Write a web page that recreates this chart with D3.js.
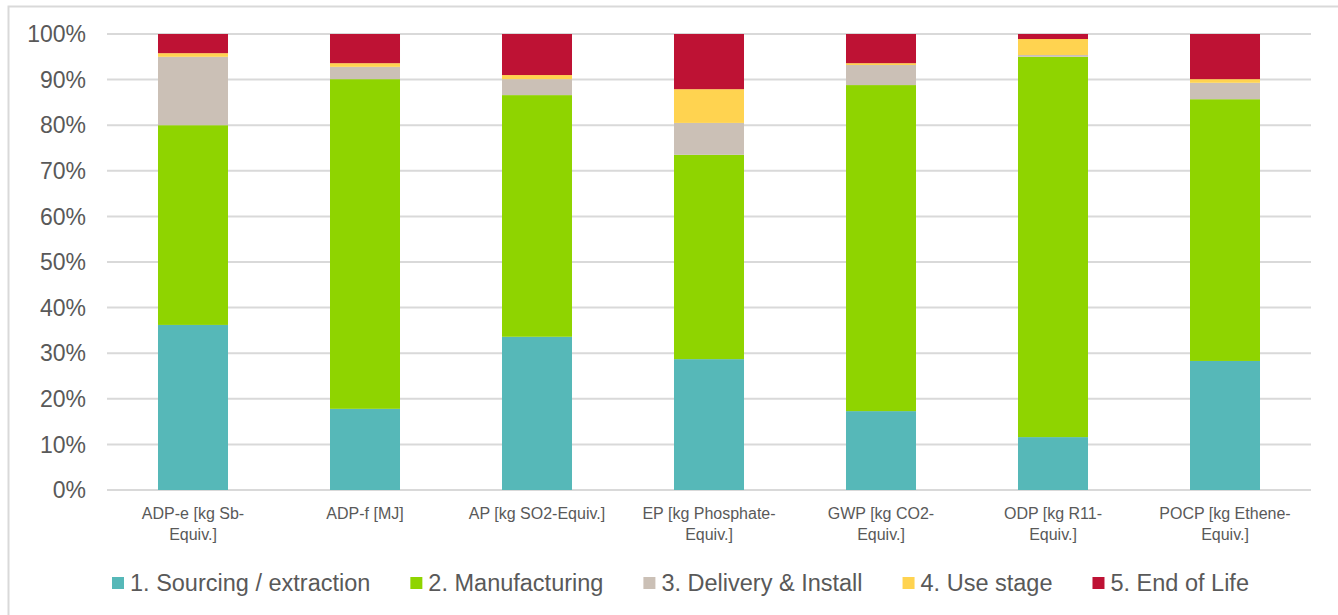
<!DOCTYPE html>
<html>
<head>
<meta charset="utf-8">
<script src="https://cdn.jsdelivr.net/npm/d3@7"></script>
<style>
  body { margin: 0; background: #fff; }
  svg text { font-family: "Liberation Sans", Arial, sans-serif; fill: #595959; }
</style>
</head>
<body>
<div id="chart"></div>
<script>
const categories = ['ADP-e [kg Sb-Equiv.]', 'ADP-f [MJ]', 'AP [kg SO2-Equiv.]', 'EP [kg Phosphate-Equiv.]',
    'GWP [kg CO2-Equiv.]', 'ODP [kg R11-Equiv.]', 'POCP [kg Ethene-Equiv.]'];
const seriesNames = ['1. Sourcing / extraction', '2. Manufacturing', '3. Delivery & Install', '4. Use stage', '5. End of Life'];
const sourcing      = [36.2, 17.8, 33.6, 28.7, 17.3, 11.6, 28.3];
const manufacturing = [43.8, 72.3, 53.0, 44.8, 71.5, 83.4, 57.4];
const delivery      = [15.0, 2.7, 3.5, 7.0, 4.4, 0.4, 3.6];
const useStage      = [0.8, 0.8, 0.9, 7.4, 0.4, 3.5, 0.8];
const endOfLife     = [4.2, 6.4, 9.0, 12.1, 6.4, 1.1, 9.9];
const yTicks = [0, 10, 20, 30, 40, 50, 60, 70, 80, 90, 100];
const colors = ['#56b8b8', '#8fd400', '#cbc0b6', '#ffd350', '#be1234'];

const width = 1338, height = 615;
const margin = { left: 107, right: 27, top: 34, bottom: 125 };

const svg = d3.select('#chart').append('svg')
    .attr('width', width)
    .attr('height', height);

// outer chart frame
svg.append('rect')
    .attr('x', 8.5).attr('y', 6.5)
    .attr('width', width).attr('height', height)
    .attr('fill', 'none').attr('stroke', '#d9d9d9').attr('stroke-width', 2);

const x = d3.scaleBand()
    .domain(categories)
    .range([margin.left, width - margin.right])
    .paddingInner(0.593)
    .paddingOuter(0.2965);

const y = d3.scaleLinear()
    .domain([0, 100])
    .range([height - margin.bottom, margin.top]);

// gridlines
svg.append('g')
    .selectAll('line').data(yTicks)
    .enter()
    .append('line')
    .attr('x1', margin.left)
    .attr('x2', width - margin.right)
    .attr('y1', d => y(d))
    .attr('y2', d => y(d))
    .attr('stroke', '#d9d9d9')
    .attr('stroke-width', 2);

// y tick labels
svg.append('g')
    .selectAll('text').data(yTicks)
    .enter()
    .append('text')
    .attr('x', 86)
    .attr('y', d => y(d))
    .attr('dy', '0.36em')
    .attr('text-anchor', 'end')
    .style('font-size', '23px')
    .text(d => d + '%');

// stacked bars
const rows = categories.map((c, i) => ({
    cat: c,
    s0: sourcing[i], s1: manufacturing[i], s2: delivery[i], s3: useStage[i], s4: endOfLife[i]
}));
const stack = d3.stack().keys(['s0', 's1', 's2', 's3', 's4'])(rows);

svg.append('g')
    .selectAll('g').data(stack)
    .enter()
    .append('g')
    .attr('fill', (d, i) => colors[i])
    .selectAll('rect').data(d => d)
    .enter()
    .append('rect')
    .attr('x', d => x(d.data.cat))
    .attr('width', x.bandwidth())
    .attr('y', d => y(d[1]))
    .attr('height', d => y(d[0]) - y(d[1]));

// category labels, wrapped like the original
const catG = svg.append('g');
categories.forEach(c => {
    const cx = x(c) + x.bandwidth() / 2;
    const t = catG.append('text')
        .attr('x', cx)
        .attr('y', 519)
        .attr('text-anchor', 'middle')
        .style('font-size', '16px')
        .text(c);
    if (t.node().getComputedTextLength() > 142) {
        const cut = c.lastIndexOf('-Equiv') + 1;
        t.text(null);
        t.append('tspan').attr('x', cx).text(c.slice(0, cut));
        t.append('tspan').attr('x', cx).attr('dy', 21).text(c.slice(cut));
    }
});

// legend
const legend = svg.append('g');
let lx = 112;
seriesNames.forEach((name, i) => {
    legend.append('rect')
        .attr('x', lx).attr('y', 577)
        .attr('width', 12).attr('height', 12)
        .attr('fill', colors[i]);
    const t = legend.append('text')
        .attr('x', lx + 18).attr('y', 591)
        .style('font-size', '23.5px')
        .text(name);
    lx += 18 + t.node().getComputedTextLength() + 40;
});
</script>
</body>
</html>
